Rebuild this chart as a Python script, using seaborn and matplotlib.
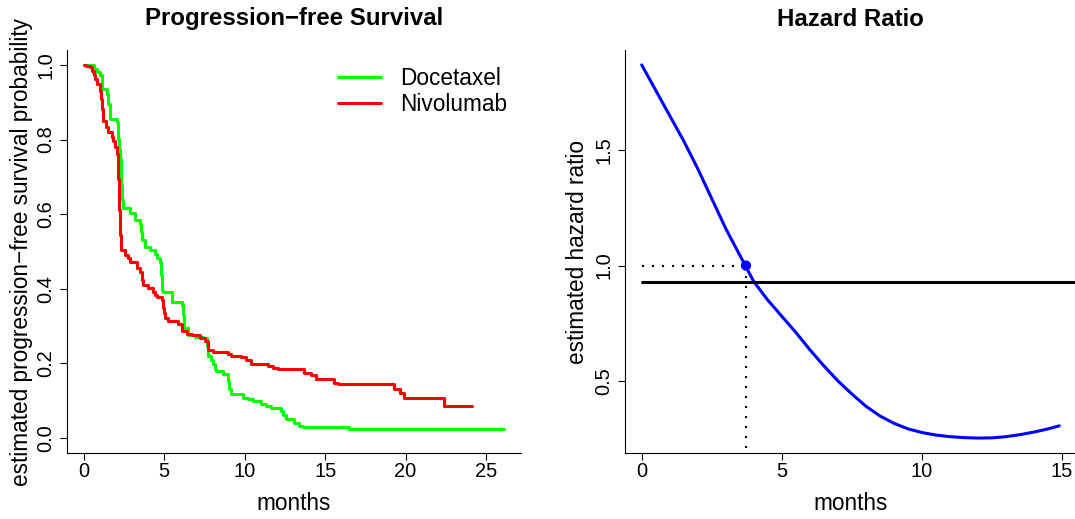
import numpy as np
import matplotlib
matplotlib.use("Agg")
import matplotlib.pyplot as plt
import seaborn as sns
import pandas as pd

# Kaplan-Meier steps (months, survival after the drop)
doc_months = [0, 0.63, 0.81, 1.0, 1.13, 1.44, 1.5, 1.63, 2.06, 2.13, 2.19, 2.25, 2.31, 2.38,
              2.44, 2.88, 3.19, 3.5, 3.56, 3.63, 3.81, 4.13, 4.44, 4.56, 4.75, 4.81, 4.88,
              4.94, 5.5, 6.13, 6.19, 6.25, 6.5, 6.94, 7.38, 7.63, 7.69, 7.75, 7.88, 8.0,
              8.13, 8.19, 8.63, 8.94, 9.0, 9.13, 9.88, 10.19, 10.5, 11.0, 11.31, 11.63,
              12.25, 12.38, 12.56, 13.06, 13.38, 13.63, 16.5, 26.13]
doc_surv = [1.0, 0.989, 0.981, 0.973, 0.935, 0.922, 0.895, 0.854, 0.846, 0.801, 0.774,
            0.747, 0.679, 0.639, 0.617, 0.604, 0.585, 0.574, 0.553, 0.531, 0.512, 0.504,
            0.493, 0.482, 0.472, 0.437, 0.396, 0.391, 0.364, 0.356, 0.329, 0.296, 0.275,
            0.270, 0.267, 0.248, 0.226, 0.221, 0.208, 0.199, 0.186, 0.181, 0.173, 0.154,
            0.132, 0.119, 0.108, 0.105, 0.100, 0.092, 0.086, 0.081, 0.073, 0.062, 0.051,
            0.040, 0.032, 0.030, 0.024, 0.024]

niv_months = [0, 0.13, 0.38, 0.5, 0.63, 0.69, 0.81, 1.0, 1.06, 1.13, 1.19, 1.38, 1.5, 1.75,
              1.81, 1.94, 2.06, 2.13, 2.19, 2.25, 2.31, 2.56, 2.75, 2.88, 3.31, 3.5, 3.63,
              3.69, 4.0, 4.31, 4.44, 4.56, 4.88, 4.94, 5.0, 5.06, 5.25, 5.88, 6.13, 6.44,
              6.75, 7.25, 7.56, 7.69, 7.75, 8.06, 8.94, 9.13, 9.75, 10.06, 10.38, 11.44,
              11.75, 12.06, 13.69, 14.13, 14.44, 15.56, 15.81, 19.25, 19.63, 19.88, 22.38,
              24.13]
niv_surv = [1.0, 0.997, 0.995, 0.984, 0.973, 0.962, 0.949, 0.930, 0.908, 0.881, 0.849,
            0.833, 0.819, 0.806, 0.795, 0.779, 0.760, 0.693, 0.612, 0.544, 0.504, 0.491,
            0.482, 0.472, 0.456, 0.445, 0.423, 0.410, 0.402, 0.391, 0.383, 0.377, 0.369,
            0.348, 0.334, 0.323, 0.315, 0.307, 0.288, 0.280, 0.275, 0.267, 0.261, 0.240,
            0.235, 0.232, 0.226, 0.221, 0.216, 0.208, 0.199, 0.194, 0.189, 0.186, 0.175,
            0.170, 0.159, 0.148, 0.146, 0.132, 0.121, 0.108, 0.086, 0.086]

# time-varying hazard ratio curve
hr_months = [0, 0.5, 1.0, 1.5, 2.0, 2.5, 3.0, 3.5, 4.0, 4.5, 5.0, 5.5, 6.0, 6.5, 7.0, 7.5,
             8.0, 8.5, 9.0, 9.5, 10.0, 10.5, 11.0, 11.5, 12.0, 12.5, 13.0, 13.5, 14.0,
             14.5, 14.9]
hr_values = [1.87, 1.76, 1.65, 1.54, 1.42, 1.29, 1.16, 1.045, 0.93, 0.85, 0.78, 0.71,
             0.635, 0.565, 0.50, 0.443, 0.39, 0.348, 0.316, 0.292, 0.276, 0.265, 0.258,
             0.254, 0.252, 0.253, 0.258, 0.267, 0.278, 0.292, 0.305]
overall_hr = 0.927
cross_month = 3.72
cross_hr = 1.0
cross_floor = 0.21

sns.set_theme(style="ticks")
plt.rcParams['font.family'] = ['Liberation Sans', 'DejaVu Sans']
plt.rcParams['text.color'] = 'black'
plt.rcParams['axes.labelcolor'] = 'black'
plt.rcParams['xtick.color'] = 'black'
plt.rcParams['ytick.color'] = 'black'

TICK = 14.4
LAB = 16.3
TITLE = 17.3


def r_lim(lo, hi):
    pad = (hi - lo) * 0.04
    return lo - pad, hi + pad


def style_axes(ax):
    sns.despine(ax=ax)
    for s in ['left', 'bottom']:
        ax.spines[s].set_linewidth(0.8)
        ax.spines[s].set_color('black')
    ax.tick_params(axis='both', direction='out', length=5.2, width=0.8, colors='black',
                   labelsize=TICK)
    ax.tick_params(axis='x', pad=1)
    ax.tick_params(axis='y', pad=3)
    plt.setp(ax.get_yticklabels(), rotation=90, va='center')
    ax.grid(False)


W, H = 1075, 519
fig = plt.figure(figsize=(W / 100, H / 100), dpi=100)
ax1 = fig.add_axes([67 / W, (H - 453) / H, (521 - 67) / W, (453 - 50) / H])
ax2 = fig.add_axes([625 / W, (H - 453) / H, (1076 - 625) / W, (453 - 50) / H])

# left: progression-free survival
km = pd.concat([
    pd.DataFrame({'months': doc_months, 'surv': doc_surv, 'arm': 'Docetaxel'}),
    pd.DataFrame({'months': niv_months, 'surv': niv_surv, 'arm': 'Nivolumab'}),
])
sns.lineplot(data=km, x='months', y='surv', hue='arm', palette=['#00FF00', '#FF0000'],
             estimator=None, sort=False, drawstyle='steps-post', linewidth=2.2, ax=ax1)
ax1.set_xlim(*r_lim(0, max(doc_months)))
ax1.set_ylim(*r_lim(0, 1))
ax1.set_xticks([0, 5, 10, 15, 20, 25])
ax1.set_yticks([0.0, 0.2, 0.4, 0.6, 0.8, 1.0])
ax1.set_yticklabels(['0.0', '0.2', '0.4', '0.6', '0.8', '1.0'])
ax1.set_xlabel('months', fontsize=LAB, va='center')
ax1.set_ylabel('estimated progression\u2212free survival probability', fontsize=LAB, va='center')
ax1.xaxis.set_label_coords(0.5, (453 - 503) / 403)
ax1.yaxis.set_label_coords((22 - 67) / 454, 0.5)
ax1.set_title('Progression\u2212free Survival', fontsize=TITLE, fontweight='bold',
              y=(453 - 19) / 403, va='center', pad=0)
leg = ax1.legend(loc='upper left', bbox_to_anchor=((338 - 67) / 454, (453 - 67) / 403),
                 frameon=False, fontsize=LAB, handlelength=1.9, handletextpad=0.85,
                 labelspacing=0.12, borderpad=0, borderaxespad=0, title=None)
for line in leg.get_lines():
    line.set_linewidth(2.2)
style_axes(ax1)

# right: hazard ratio
sns.lineplot(x=hr_months, y=hr_values, color='#0000FF', linewidth=2.2, estimator=None,
             sort=False, ax=ax2)
ax2.plot([0, 16], [overall_hr, overall_hr], color='black', linewidth=2.2)
ax2.plot([0, cross_month], [cross_hr, cross_hr], color='black', linewidth=1.5,
         linestyle=(0, (1, 3.8)))
ax2.plot([cross_month, cross_month], [cross_hr, cross_floor], color='black', linewidth=1.5,
         linestyle=(0, (1, 3.8)))
sns.scatterplot(x=[cross_month], y=[cross_hr], color='#0000FF', s=55, edgecolor='none',
                ax=ax2, zorder=5)
ax2.set_xlim(*r_lim(0, max(hr_months)))
ax2.set_ylim(*r_lim(min(hr_values), max(hr_values)))
ax2.set_xticks([0, 5, 10, 15])
ax2.set_yticks([0.5, 1.0, 1.5])
ax2.set_yticklabels(['0.5', '1.0', '1.5'])
ax2.set_xlabel('months', fontsize=LAB, va='center')
ax2.set_ylabel('estimated hazard ratio', fontsize=LAB, va='center')
ax2.xaxis.set_label_coords(0.5, (453 - 503) / 403)
ax2.yaxis.set_label_coords((578 - 625) / 451, 0.5)
ax2.set_title('Hazard Ratio', fontsize=TITLE, fontweight='bold',
              y=(453 - 19) / 403, va='center', pad=0)
style_axes(ax2)

fig.savefig('out.png', dpi=100)
